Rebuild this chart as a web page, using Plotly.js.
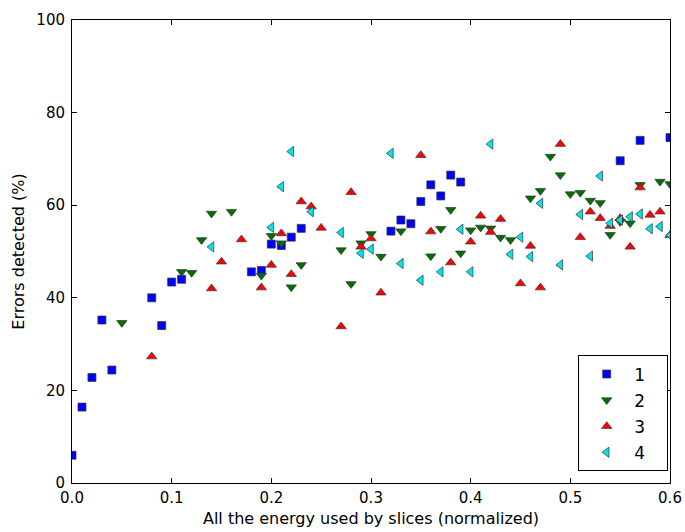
<!DOCTYPE html>
<html>
<head>
<meta charset="utf-8">
<script src="https://cdn.plot.ly/plotly-3.0.1.min.js"></script>
<style>html,body{margin:0;padding:0;background:#fff;}#chart{width:685px;height:532px;}</style>
</head>
<body>
<div id="chart"></div>
<script>
const seriesNames = ['1', '2', '3', '4'];

const x1 = [0, 0.01, 0.02, 0.03, 0.04, 0.08, 0.09, 0.10, 0.11, 0.18, 0.19, 0.20, 0.21, 0.22, 0.23, 0.32, 0.33, 0.34, 0.35, 0.36, 0.37, 0.38, 0.39, 0.55, 0.57, 0.60];
const y1 = [6.0, 16.4, 22.8, 35.2, 24.4, 40.0, 34.0, 43.4, 44.0, 45.6, 45.9, 51.6, 51.3, 53.1, 55.0, 54.4, 56.8, 56.0, 60.8, 64.4, 62.0, 66.5, 65.0, 69.6, 74.0, 74.6];

const x2 = [0.05, 0.11, 0.12, 0.13, 0.14, 0.16, 0.19, 0.20, 0.21, 0.22, 0.23, 0.27, 0.28, 0.29, 0.30, 0.31, 0.33, 0.36, 0.37, 0.38, 0.39, 0.40, 0.41, 0.42, 0.43, 0.44, 0.46, 0.47, 0.48, 0.49, 0.50, 0.51, 0.52, 0.53, 0.54, 0.55, 0.56, 0.57, 0.59, 0.60];
const y2 = [34.6, 45.6, 45.4, 52.5, 58.2, 58.6, 44.8, 53.4, 51.8, 42.3, 47.1, 50.3, 43.0, 51.8, 53.8, 48.9, 54.4, 49.0, 54.9, 59.0, 49.6, 54.6, 55.2, 55.0, 53.0, 52.5, 61.5, 63.1, 70.5, 66.5, 62.4, 62.7, 61.0, 60.5, 53.6, 56.4, 56.1, 64.4, 65.1, 64.6];

const x3 = [0.08, 0.14, 0.15, 0.17, 0.19, 0.20, 0.21, 0.22, 0.23, 0.24, 0.25, 0.27, 0.28, 0.29, 0.30, 0.31, 0.35, 0.36, 0.38, 0.40, 0.41, 0.42, 0.43, 0.45, 0.46, 0.47, 0.49, 0.51, 0.52, 0.53, 0.54, 0.55, 0.56, 0.57, 0.58, 0.59, 0.60];
const y3 = [27.3, 42.0, 47.8, 52.6, 42.2, 47.1, 53.9, 45.1, 60.8, 59.7, 55.1, 33.8, 62.8, 51.0, 52.8, 41.1, 70.8, 54.3, 47.6, 52.1, 57.7, 54.2, 57.0, 43.1, 51.2, 42.2, 73.2, 53.1, 58.6, 57.2, 55.5, 57.2, 51.0, 63.8, 57.9, 58.6, 53.5];

const x4 = [0.14, 0.20, 0.21, 0.22, 0.24, 0.27, 0.29, 0.30, 0.32, 0.33, 0.35, 0.37, 0.39, 0.40, 0.42, 0.44, 0.45, 0.46, 0.47, 0.49, 0.51, 0.52, 0.53, 0.54, 0.55, 0.56, 0.57, 0.58, 0.59, 0.60];
const y4 = [51.0, 55.2, 64.0, 71.6, 58.6, 54.1, 49.6, 50.5, 71.2, 47.4, 43.8, 45.6, 54.8, 45.6, 73.2, 49.4, 53.1, 48.9, 60.4, 47.1, 58.0, 49.0, 66.3, 56.1, 56.8, 57.5, 58.1, 54.9, 55.4, 53.5];

const xTicks = [0.0, 0.1, 0.2, 0.3, 0.4, 0.5, 0.6];
const xTickText = ['0.0', '0.1', '0.2', '0.3', '0.4', '0.5', '0.6'];
const yTicks = [0, 20, 40, 60, 80, 100];

const styles = [
  {symbol: 'square', color: '#0000ff', size: 8},
  {symbol: 'triangle-down', color: '#007000', size: 9},
  {symbol: 'triangle-up', color: '#ff0000', size: 9},
  {symbol: 'triangle-left', color: '#00e6e6', size: 9}
];
const xs = [x1, x2, x3, x4];
const ys = [y1, y2, y3, y4];

const traces = xs.map((xv, i) => ({
  type: 'scatter',
  mode: 'markers',
  x: xv,
  y: ys[i],
  name: seriesNames[i] + '\u00a0\u00a0\u00a0',
  legendgroup: 'g' + i,
  cliponaxis: true,
  marker: {symbol: styles[i].symbol, color: styles[i].color, size: styles[i].size,
           line: {color: '#333333', width: 0.7}}
}));

const tickFont = {family: 'DejaVu Sans, sans-serif', size: 15, color: '#000'};
const titleFont = {family: 'DejaVu Sans, sans-serif', size: 16, color: '#000'};

const layout = {
  width: 685, height: 532,
  margin: {l: 72, r: 15, t: 20, b: 49},
  paper_bgcolor: '#fff', plot_bgcolor: '#fff',
  font: tickFont,
  showlegend: true,
  legend: {
    x: 0.997, y: 0.025, xanchor: 'right', yanchor: 'bottom',
    bordercolor: '#000', borderwidth: 1, bgcolor: '#fff',
    font: {family: 'DejaVu Sans, sans-serif', size: 17, color: '#000'},
    tracegroupgap: 1, itemwidth: 45
  },
  xaxis: {
    range: [0, 0.6], tickvals: xTicks, ticktext: xTickText,
    ticks: 'inside', ticklen: 5, tickcolor: '#000',
    showline: true, linecolor: '#000', linewidth: 1, mirror: 'ticks',
    showgrid: false, zeroline: false, tickfont: tickFont, ticklabelstandoff: 1,
    title: {text: 'All the energy used by slices (normalized)', font: titleFont, standoff: 6}
  },
  yaxis: {
    range: [0, 100], tickvals: yTicks,
    ticks: 'inside', ticklen: 5, tickcolor: '#000',
    showline: true, linecolor: '#000', linewidth: 1, mirror: 'ticks',
    showgrid: false, zeroline: false, tickfont: tickFont, ticklabelstandoff: 3,
    title: {text: 'Errors detected (%)', font: titleFont, standoff: 7}
  }
};

Plotly.newPlot('chart', traces, layout, {displayModeBar: false, staticPlot: true});
</script>
</body>
</html>
